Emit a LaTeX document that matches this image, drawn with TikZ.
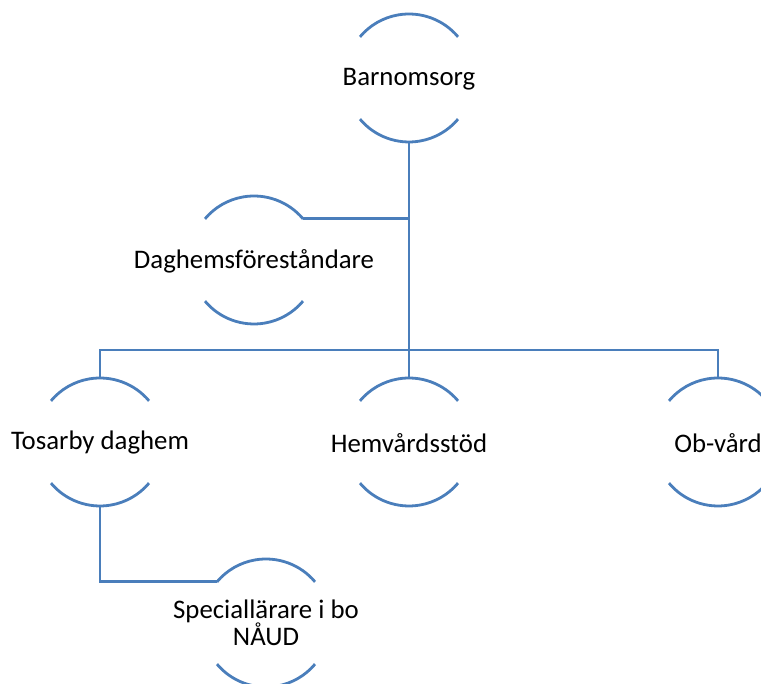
\documentclass[tikz,border=0pt]{standalone}
\usepackage{fontspec}
\setmainfont{Carlito}
\usetikzlibrary{calc}
\definecolor{ringblue}{HTML}{4A7EBB}
\tikzset{
  ring/.style={draw=ringblue, line width=2.8pt},
  conn/.style={draw=ringblue, line width=2.8pt},
  lbl/.style={font=\fontsize{26.8}{27}\selectfont, inner sep=0pt, align=center}
}
\newcommand\ringarcs[1]{%
  \draw[ring] ([shift={(40:64pt)}]#1.center) arc[start angle=40,end angle=140,radius=64pt];
  \draw[ring] ([shift={(220:64pt)}]#1.center) arc[start angle=220,end angle=320,radius=64pt];
}
\begin{document}
\begin{tikzpicture}[x=1pt,y=1pt]
\useasboundingbox (0,0) rectangle (761,684);
\node[lbl] (bar) at (409,605) {Barnomsorg};
\node[lbl] (dag) at (254,423) {Daghemsföreståndare};
\node[lbl] (tos) at (100,241) {Tosarby daghem};
\node[lbl] (hem) at (409,241) {Hemvårdsstöd};
\node[lbl] (ob)  at (718,241) {Ob-vård};
\node[lbl] (spe) at (266,61) {Speciallärare i bo\\NÅUD};
\coordinate (cbar) at (409,606);
\coordinate (cdag) at (254,424);
\coordinate (ctos) at (100,242);
\coordinate (chem) at (409,242);
\coordinate (cob)  at (718,242);
\coordinate (cspe) at (266,61);
\foreach \n in {cbar,cdag,ctos,chem,cob,cspe}{\ringarcs{\n}}
\coordinate (bus) at (409,334);
\coordinate (barb) at ($(cbar)+(0,-64)$);
\coordinate (dagr) at ($(cdag)+(40:64)$);
\coordinate (tost) at ($(ctos)+(0,64)$);
\coordinate (hemt) at ($(chem)+(0,64)$);
\coordinate (obt)  at ($(cob)+(0,64)$);
\coordinate (tosb) at ($(ctos)+(0,-64)$);
\coordinate (spel) at ($(cspe)+(140:64)$);
\draw[conn] (barb) -- (bus);
\draw[conn] (dagr) -- (dagr -| bus);
\draw[conn] (tost) |- (bus) -| (obt);
\draw[conn] (bus) -- (hemt);
\draw[conn] (tosb) |- (spel);
\end{tikzpicture}
\end{document}
